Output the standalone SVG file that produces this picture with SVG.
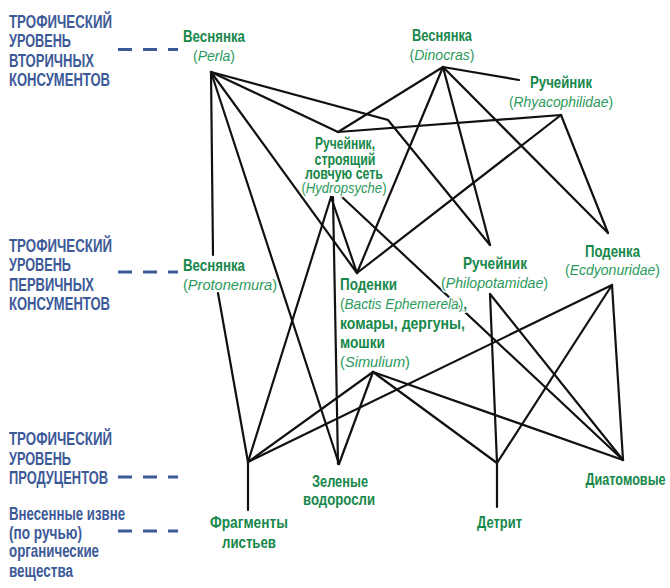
<svg xmlns="http://www.w3.org/2000/svg" width="670" height="588" viewBox="0 0 670 588">
<style>
.lvl{font-family:"Liberation Sans",Arial,sans-serif;font-weight:bold;font-size:18px;fill:#3d5a98}
.dash{stroke:#3d5a98;stroke-width:2.8;stroke-dasharray:14 11;fill:none}
.n{font-family:"Liberation Sans",Arial,sans-serif;font-weight:bold;font-size:16.5px;fill:#17884a;stroke:#fff;stroke-width:3;paint-order:stroke;stroke-linejoin:round}
.i{font-family:"Liberation Sans",Arial,sans-serif;font-style:italic;font-size:15.5px;fill:#2a9a5c;stroke:#fff;stroke-width:3;paint-order:stroke;stroke-linejoin:round}
.i tspan.u{font-style:normal}
.i tspan.b{font-style:normal;font-weight:bold;fill:#17884a}
.c line,.c polyline{stroke:#111;stroke-width:2.2;fill:none;stroke-linecap:round;stroke-linejoin:miter}
</style>
<rect width="670" height="588" fill="#fff"/>

<g id="levels">
  <g id="level-secondary">
    <text class="lvl" x="9" y="28" textLength="103" lengthAdjust="spacingAndGlyphs">ТРОФИЧЕСКИЙ</text>
    <text class="lvl" x="9" y="47" textLength="62" lengthAdjust="spacingAndGlyphs">УРОВЕНЬ</text>
    <text class="lvl" x="9" y="66.5" textLength="85" lengthAdjust="spacingAndGlyphs">ВТОРИЧНЫХ</text>
    <text class="lvl" x="9" y="85.5" textLength="101" lengthAdjust="spacingAndGlyphs">КОНСУМЕНТОВ</text>
    <line class="dash" x1="118" y1="49.5" x2="178" y2="49.5"/>
  </g>
  <g id="level-primary">
    <text class="lvl" x="9" y="252" textLength="103" lengthAdjust="spacingAndGlyphs">ТРОФИЧЕСКИЙ</text>
    <text class="lvl" x="9" y="271" textLength="62" lengthAdjust="spacingAndGlyphs">УРОВЕНЬ</text>
    <text class="lvl" x="9" y="290.5" textLength="85" lengthAdjust="spacingAndGlyphs">ПЕРВИЧНЫХ</text>
    <text class="lvl" x="9" y="310" textLength="101" lengthAdjust="spacingAndGlyphs">КОНСУМЕНТОВ</text>
    <line class="dash" x1="118" y1="272" x2="178" y2="272"/>
  </g>
  <g id="level-producers">
    <text class="lvl" x="9" y="445" textLength="103" lengthAdjust="spacingAndGlyphs">ТРОФИЧЕСКИЙ</text>
    <text class="lvl" x="9" y="465" textLength="62" lengthAdjust="spacingAndGlyphs">УРОВЕНЬ</text>
    <text class="lvl" x="9" y="484" textLength="99" lengthAdjust="spacingAndGlyphs">ПРОДУЦЕНТОВ</text>
    <line class="dash" x1="118" y1="477" x2="178" y2="477"/>
  </g>
  <g id="level-input">
    <text class="lvl" x="9" y="520" textLength="116" lengthAdjust="spacingAndGlyphs">Внесенные извне</text>
    <text class="lvl" x="9" y="538.5" textLength="73" lengthAdjust="spacingAndGlyphs">(по ручью)</text>
    <text class="lvl" x="9" y="557" textLength="90" lengthAdjust="spacingAndGlyphs">органические</text>
    <text class="lvl" x="9" y="577" textLength="64" lengthAdjust="spacingAndGlyphs">вещества</text>
    <line class="dash" x1="118" y1="531" x2="178" y2="531"/>
  </g>
</g>

<g id="connectors" class="c">
  <line x1="211" y1="72" x2="213" y2="255"/>
  <line x1="218" y1="293" x2="248" y2="462"/>
  <line x1="211" y1="72" x2="339" y2="464"/>
  <line x1="211" y1="72" x2="357" y2="273"/>
  <line x1="211" y1="72" x2="338" y2="132"/>
  <polyline points="211,72 388,120 490,245"/>
  <line x1="443" y1="67" x2="338" y2="132"/>
  <line x1="443" y1="67" x2="357" y2="273"/>
  <line x1="443" y1="67" x2="490" y2="245"/>
  <line x1="443" y1="67" x2="608" y2="233"/>
  <line x1="443" y1="67" x2="519" y2="80"/>
  <line x1="561" y1="115" x2="338" y2="132"/>
  <line x1="561" y1="115" x2="357" y2="273"/>
  <line x1="561" y1="115" x2="608" y2="233"/>
  <line x1="331" y1="197" x2="248" y2="462"/>
  <line x1="333" y1="197" x2="338" y2="464"/>
  <line x1="331" y1="197" x2="357" y2="273"/>
  <line x1="342" y1="197" x2="623" y2="460"/>
  <line x1="373" y1="372" x2="248" y2="462"/>
  <line x1="373" y1="372" x2="339" y2="464"/>
  <line x1="373" y1="372" x2="497" y2="463"/>
  <line x1="373" y1="372" x2="623" y2="460"/>
  <line x1="490" y1="294" x2="497" y2="463"/>
  <line x1="490" y1="294" x2="623" y2="460"/>
  <line x1="612" y1="285" x2="248" y2="462"/>
  <line x1="612" y1="285" x2="497" y2="463"/>
  <line x1="612" y1="285" x2="623" y2="460"/>
  <line x1="248" y1="462" x2="248" y2="510"/>
  <line x1="497" y1="463" x2="497" y2="507"/>
</g>

<g id="node-perla">
  <text class="n" x="214" y="42" text-anchor="middle" textLength="62" lengthAdjust="spacingAndGlyphs">Веснянка</text>
  <text class="i" x="214" y="61" text-anchor="middle" textLength="42" lengthAdjust="spacingAndGlyphs"><tspan class="u">(</tspan>Perla<tspan class="u">)</tspan></text>
</g>
<g id="node-dinocras">
  <text class="n" x="442" y="41" text-anchor="middle" textLength="60" lengthAdjust="spacingAndGlyphs">Веснянка</text>
  <text class="i" x="442" y="60" text-anchor="middle" textLength="65" lengthAdjust="spacingAndGlyphs"><tspan class="u">(</tspan>Dinocras<tspan class="u">)</tspan></text>
</g>
<g id="node-rhyacophilidae">
  <text class="n" x="561" y="88" text-anchor="middle" textLength="62" lengthAdjust="spacingAndGlyphs">Ручейник</text>
  <text class="i" x="561" y="107" text-anchor="middle" textLength="104" lengthAdjust="spacingAndGlyphs"><tspan class="u">(</tspan>Rhyacophilidae<tspan class="u">)</tspan></text>
</g>
<g id="node-hydropsyche">
  <text class="n" x="345" y="149" text-anchor="middle" textLength="60" lengthAdjust="spacingAndGlyphs">Ручейник,</text>
  <text class="n" x="345" y="164.5" text-anchor="middle" textLength="61" lengthAdjust="spacingAndGlyphs">строящий</text>
  <text class="n" x="344" y="179" text-anchor="middle" textLength="78" lengthAdjust="spacingAndGlyphs">ловчую сеть</text>
  <text class="i" x="344" y="193" text-anchor="middle" textLength="85" lengthAdjust="spacingAndGlyphs"><tspan class="u">(</tspan>Hydropsyche<tspan class="u">)</tspan></text>
</g>
<g id="node-protonemura">
  <text class="n" x="183" y="271" textLength="62" lengthAdjust="spacingAndGlyphs">Веснянка</text>
  <text class="i" x="183" y="290" textLength="94" lengthAdjust="spacingAndGlyphs"><tspan class="u">(</tspan>Protonemura<tspan class="u">)</tspan></text>
</g>
<g id="node-bactis">
  <text class="n" x="340" y="290" textLength="57" lengthAdjust="spacingAndGlyphs">Поденки</text>
  <text class="i" x="340" y="309" textLength="127" lengthAdjust="spacingAndGlyphs"><tspan class="u">(</tspan>Bactis Ephemerela<tspan class="u">)</tspan><tspan class="b">,</tspan></text>
  <text class="n" x="340" y="329" textLength="125" lengthAdjust="spacingAndGlyphs">комары, дергуны,</text>
  <text class="n" x="340" y="348" textLength="45" lengthAdjust="spacingAndGlyphs">мошки</text>
  <text class="i" x="340" y="367" textLength="70" lengthAdjust="spacingAndGlyphs"><tspan class="u">(</tspan>Simulium<tspan class="u">)</tspan></text>
</g>
<g id="node-philopotamidae">
  <text class="n" x="495" y="269" text-anchor="middle" textLength="64" lengthAdjust="spacingAndGlyphs">Ручейник</text>
  <text class="i" x="494.5" y="288" text-anchor="middle" textLength="107" lengthAdjust="spacingAndGlyphs"><tspan class="u">(</tspan>Philopotamidae<tspan class="u">)</tspan></text>
</g>
<g id="node-ecdyonuridae">
  <text class="n" x="612.5" y="257" text-anchor="middle" textLength="55" lengthAdjust="spacingAndGlyphs">Поденка</text>
  <text class="i" x="612.5" y="275" text-anchor="middle" textLength="95" lengthAdjust="spacingAndGlyphs"><tspan class="u">(</tspan>Ecdyonuridae<tspan class="u">)</tspan></text>
</g>
<g id="node-fragments">
  <text class="n" x="249" y="528" text-anchor="middle" textLength="78" lengthAdjust="spacingAndGlyphs">Фрагменты</text>
  <text class="n" x="249" y="548" text-anchor="middle" textLength="54" lengthAdjust="spacingAndGlyphs">листьев</text>
</g>
<g id="node-algae">
  <text class="n" x="340" y="487" text-anchor="middle" textLength="56" lengthAdjust="spacingAndGlyphs">Зеленые</text>
  <text class="n" x="339" y="505" text-anchor="middle" textLength="72" lengthAdjust="spacingAndGlyphs">водоросли</text>
</g>
<g id="node-detritus">
  <text class="n" x="499.5" y="528" text-anchor="middle" textLength="45" lengthAdjust="spacingAndGlyphs">Детрит</text>
</g>
<g id="node-diatoms">
  <text class="n" x="625.5" y="485" text-anchor="middle" textLength="80" lengthAdjust="spacingAndGlyphs">Диатомовые</text>
</g>
</svg>
